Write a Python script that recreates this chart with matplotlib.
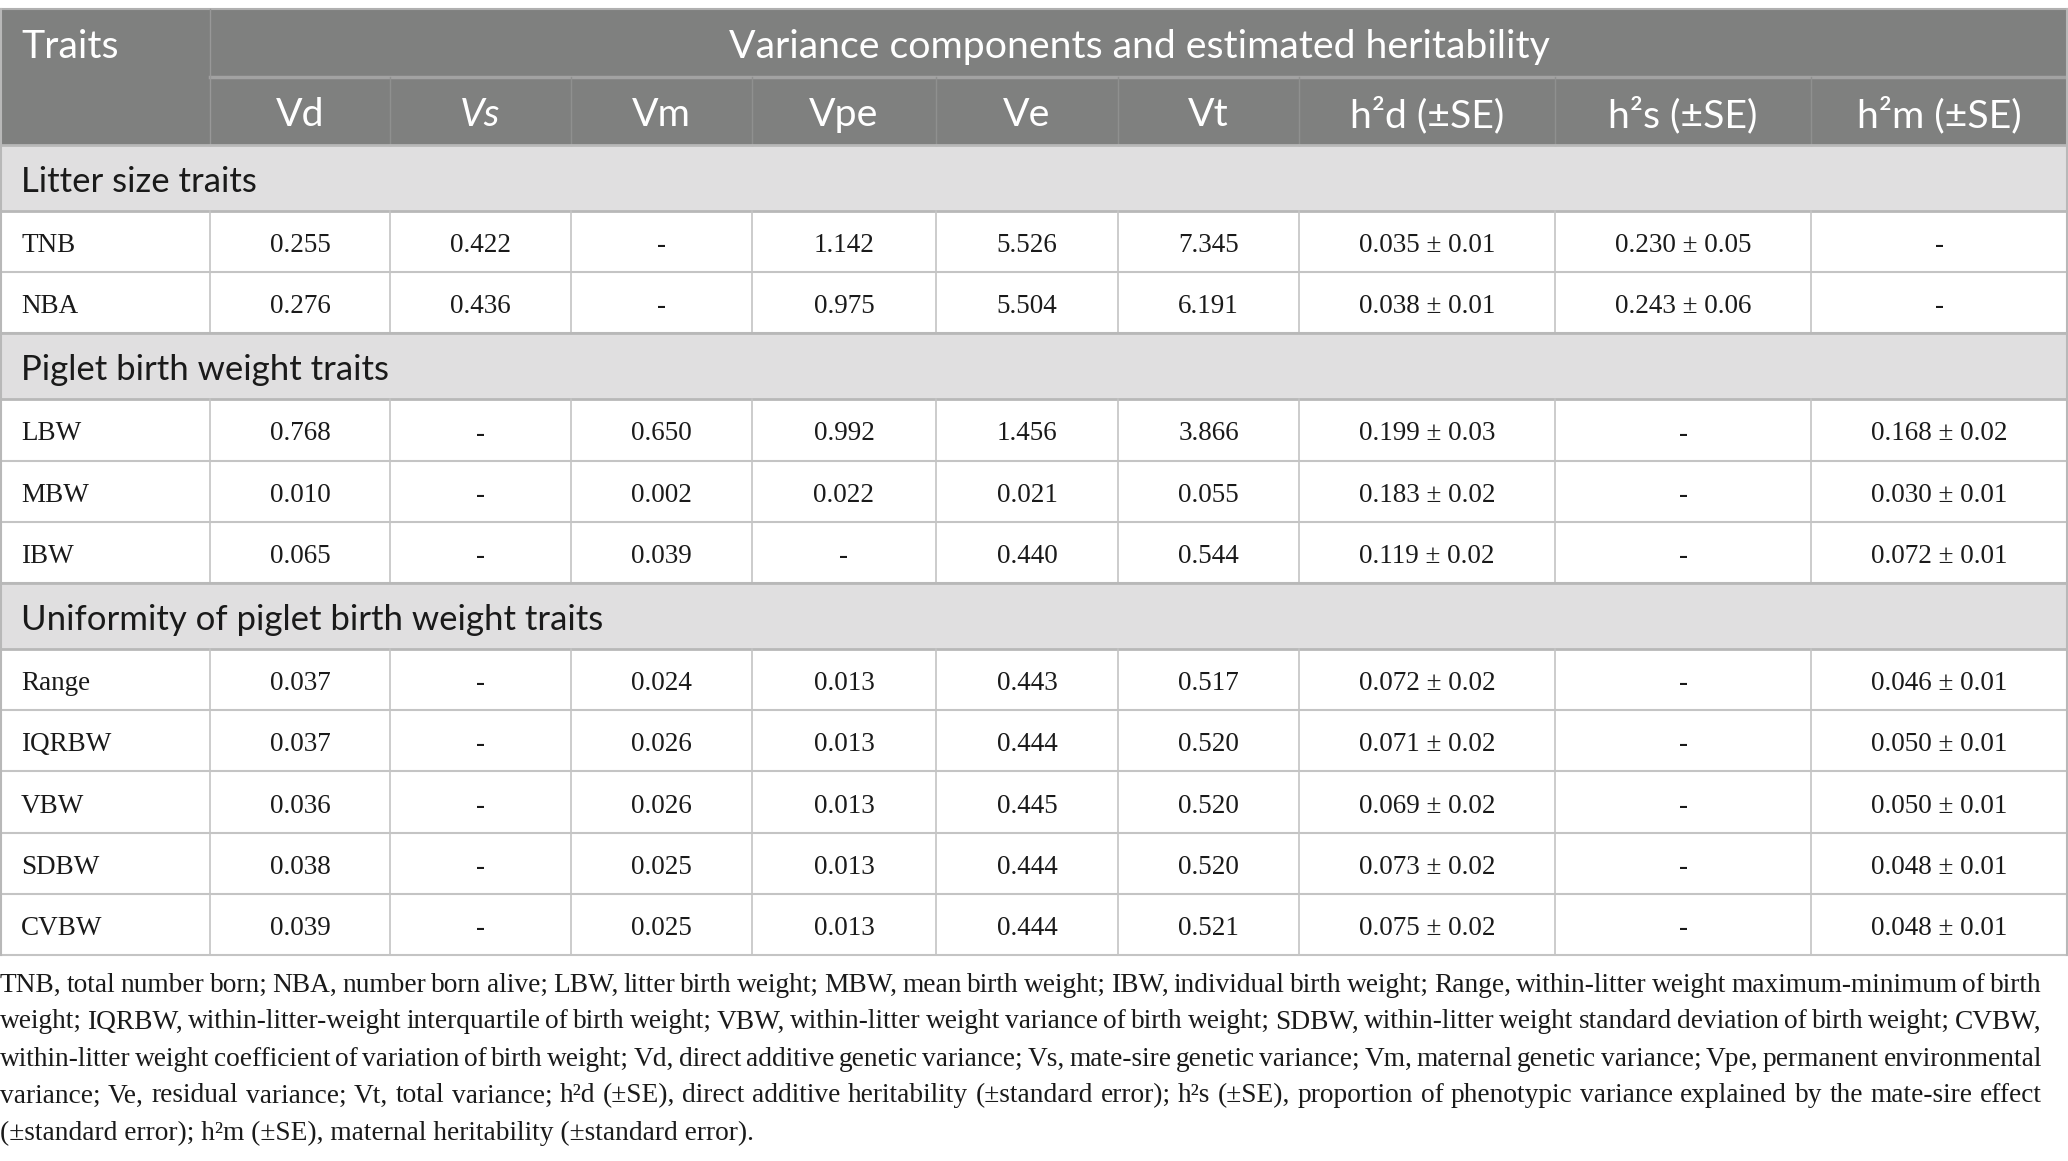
import matplotlib
matplotlib.use("Agg")
import matplotlib.pyplot as plt
from matplotlib.patches import Rectangle

# ---------------- data ----------------
header_top = "Variance components and estimated heritability"
col_heads = ["Vd", "Vs", "Vm", "Vpe", "Ve", "Vt", "h²d (±SE)", "h²s (±SE)", "h²m (±SE)"]

groups = ["Litter size traits", "Piglet birth weight traits", "Uniformity of piglet birth weight traits"]
group_traits = [["TNB", "NBA"],
                ["LBW", "MBW", "IBW"],
                ["Range", "IQRBW", "VBW", "SDBW", "CVBW"]]

Vd  = ["0.255", "0.276", "0.768", "0.010", "0.065", "0.037", "0.037", "0.036", "0.038", "0.039"]
Vs  = ["0.422", "0.436", "-", "-", "-", "-", "-", "-", "-", "-"]
Vm  = ["-", "-", "0.650", "0.002", "0.039", "0.024", "0.026", "0.026", "0.025", "0.025"]
Vpe = ["1.142", "0.975", "0.992", "0.022", "-", "0.013", "0.013", "0.013", "0.013", "0.013"]
Ve  = ["5.526", "5.504", "1.456", "0.021", "0.440", "0.443", "0.444", "0.445", "0.444", "0.444"]
Vt  = ["7.345", "6.191", "3.866", "0.055", "0.544", "0.517", "0.520", "0.520", "0.520", "0.521"]
h2d = ["0.035 ± 0.01", "0.038 ± 0.01", "0.199 ± 0.03", "0.183 ± 0.02", "0.119 ± 0.02",
       "0.072 ± 0.02", "0.071 ± 0.02", "0.069 ± 0.02", "0.073 ± 0.02", "0.075 ± 0.02"]
h2s = ["0.230 ± 0.05", "0.243 ± 0.06", "-", "-", "-", "-", "-", "-", "-", "-"]
h2m = ["-", "-", "0.168 ± 0.02", "0.030 ± 0.01", "0.072 ± 0.01",
       "0.046 ± 0.01", "0.050 ± 0.01", "0.050 ± 0.01", "0.048 ± 0.01", "0.048 ± 0.01"]

footnote_lines = [
    "TNB, total number born; NBA, number born alive; LBW, litter birth weight; MBW, mean birth weight; IBW, individual birth weight; Range, within-litter weight maximum-minimum of birth",
    "weight; IQRBW, within-litter-weight interquartile of birth weight; VBW, within-litter weight variance of birth weight; SDBW, within-litter weight standard deviation of birth weight; CVBW,",
    "within-litter weight coefficient of variation of birth weight; Vd, direct additive genetic variance; Vs, mate-sire genetic variance; Vm, maternal genetic variance; Vpe, permanent environmental",
    "variance; Ve, residual variance; Vt, total variance; h²d (±SE), direct additive heritability (±standard error); h²s (±SE), proportion of phenotypic variance explained by the mate-sire effect",
    "(±standard error); h²m (±SE), maternal heritability (±standard error).",
]

columns = [Vd, Vs, Vm, Vpe, Ve, Vt, h2d, h2s, h2m]

# ---------------- layout ----------------
W, H = 2068, 1161
fig = plt.figure(figsize=(W / 100, H / 100), dpi=100)
ax = fig.add_axes([0, 0, 1, 1])
ax.set_xlim(0, W)
ax.set_ylim(H, 0)
ax.axis("off")

col_x = [0, 210, 390, 571, 752, 936, 1118, 1299, 1555, 1811, 2067]
top = 9
head_h = 68
sec_h = 66
row_h = 61.2
dy = 4

HEAD_BG = "#7f807f"
SEC_BG = "#e0dfe0"
GRID = "#c4c4c4"
TXT = "#1a1a1a"
SANS = ["Lato", "DejaVu Sans"]
SERIF = ["Liberation Serif", "DejaVu Serif"]
hfs = 28.3
sfs = 25
cfs = 19.5

# header
ax.add_patch(Rectangle((0, top), W, 2 * head_h, facecolor=HEAD_BG, edgecolor="none"))
ax.plot([0, W], [top, top], color="#b0b0b0", lw=1.5)
ax.plot([col_x[1], W], [top + head_h, top + head_h], color="#a2a2a2", lw=2.5)
ax.plot([col_x[1], col_x[1]], [top, top + 2 * head_h], color="#989898", lw=1)
for x in col_x[2:-1]:
    ax.plot([x, x], [top + head_h, top + 2 * head_h], color="#8f908f", lw=1)
ax.text(21, top + head_h / 2 + dy, "Traits", color="white", fontsize=hfs, family=SANS,
        ha="left", va="center")
ax.text((col_x[1] + W) / 2, top + head_h / 2 + dy, header_top, color="white", fontsize=hfs,
        family=SANS, ha="center", va="center")
for i, h in enumerate(col_heads):
    cx = (col_x[i + 1] + col_x[i + 2]) / 2
    ax.text(cx, top + 1.5 * head_h + dy, h, color="white", fontsize=hfs, family=SANS,
            ha="center", va="center", style="italic" if h == "Vs" else "normal")

y = top + 2 * head_h
ridx = 0
for g, traits in zip(groups, group_traits):
    ax.add_patch(Rectangle((0, y), W, sec_h, facecolor=SEC_BG, edgecolor="none"))
    ax.plot([0, W], [y, y], color="#b8b8b8", lw=2)
    ax.text(21, y + sec_h / 2 + dy, g, color=TXT, fontsize=sfs, family=SANS,
            ha="left", va="center")
    y += sec_h
    ax.plot([0, W], [y, y], color="#b8b8b8", lw=2)
    for t in traits:
        ax.text(21, y + row_h / 2 + dy, t, color=TXT, fontsize=cfs, family=SERIF,
                ha="left", va="center")
        for ci, col in enumerate(columns):
            cx = (col_x[ci + 1] + col_x[ci + 2]) / 2
            ax.text(cx, y + row_h / 2 + dy, col[ridx], color=TXT, fontsize=cfs,
                    family=SERIF, ha="center", va="center")
        for x in col_x[1:-1]:
            ax.plot([x, x], [y, y + row_h], color=GRID, lw=1.2)
        y += row_h
        ax.plot([0, W], [y, y], color=GRID, lw=1.5)
        ridx += 1

# outer borders
ax.plot([0.7, 0.7], [top, y], color="#b8b8b8", lw=1.5)
ax.plot([W - 0.7, W - 0.7], [top, y], color="#b8b8b8", lw=1.5)

# footnote (justified)
fig.canvas.draw()
renderer = fig.canvas.get_renderer()
fn_fs = 19.7
line_y = [985, 1022, 1059, 1096, 1133]
target_w = 2042
for li, (line, ly) in enumerate(zip(footnote_lines, line_y)):
    if li == len(footnote_lines) - 1:
        ax.text(0, ly, line, fontsize=fn_fs, family=SERIF, color=TXT,
                ha="left", va="center")
        continue
    words = line.split(" ")
    arts = [ax.text(0, ly, w, fontsize=fn_fs, family=SERIF, color=TXT,
                    ha="left", va="center") for w in words]
    widths = [a.get_window_extent(renderer).width for a in arts]
    gap = max((target_w - sum(widths)) / (len(words) - 1), 2.0)
    x = 0
    for a, wdt in zip(arts, widths):
        a.set_x(x)
        x += wdt + gap

fig.savefig("out.png", dpi=100, facecolor="white")
